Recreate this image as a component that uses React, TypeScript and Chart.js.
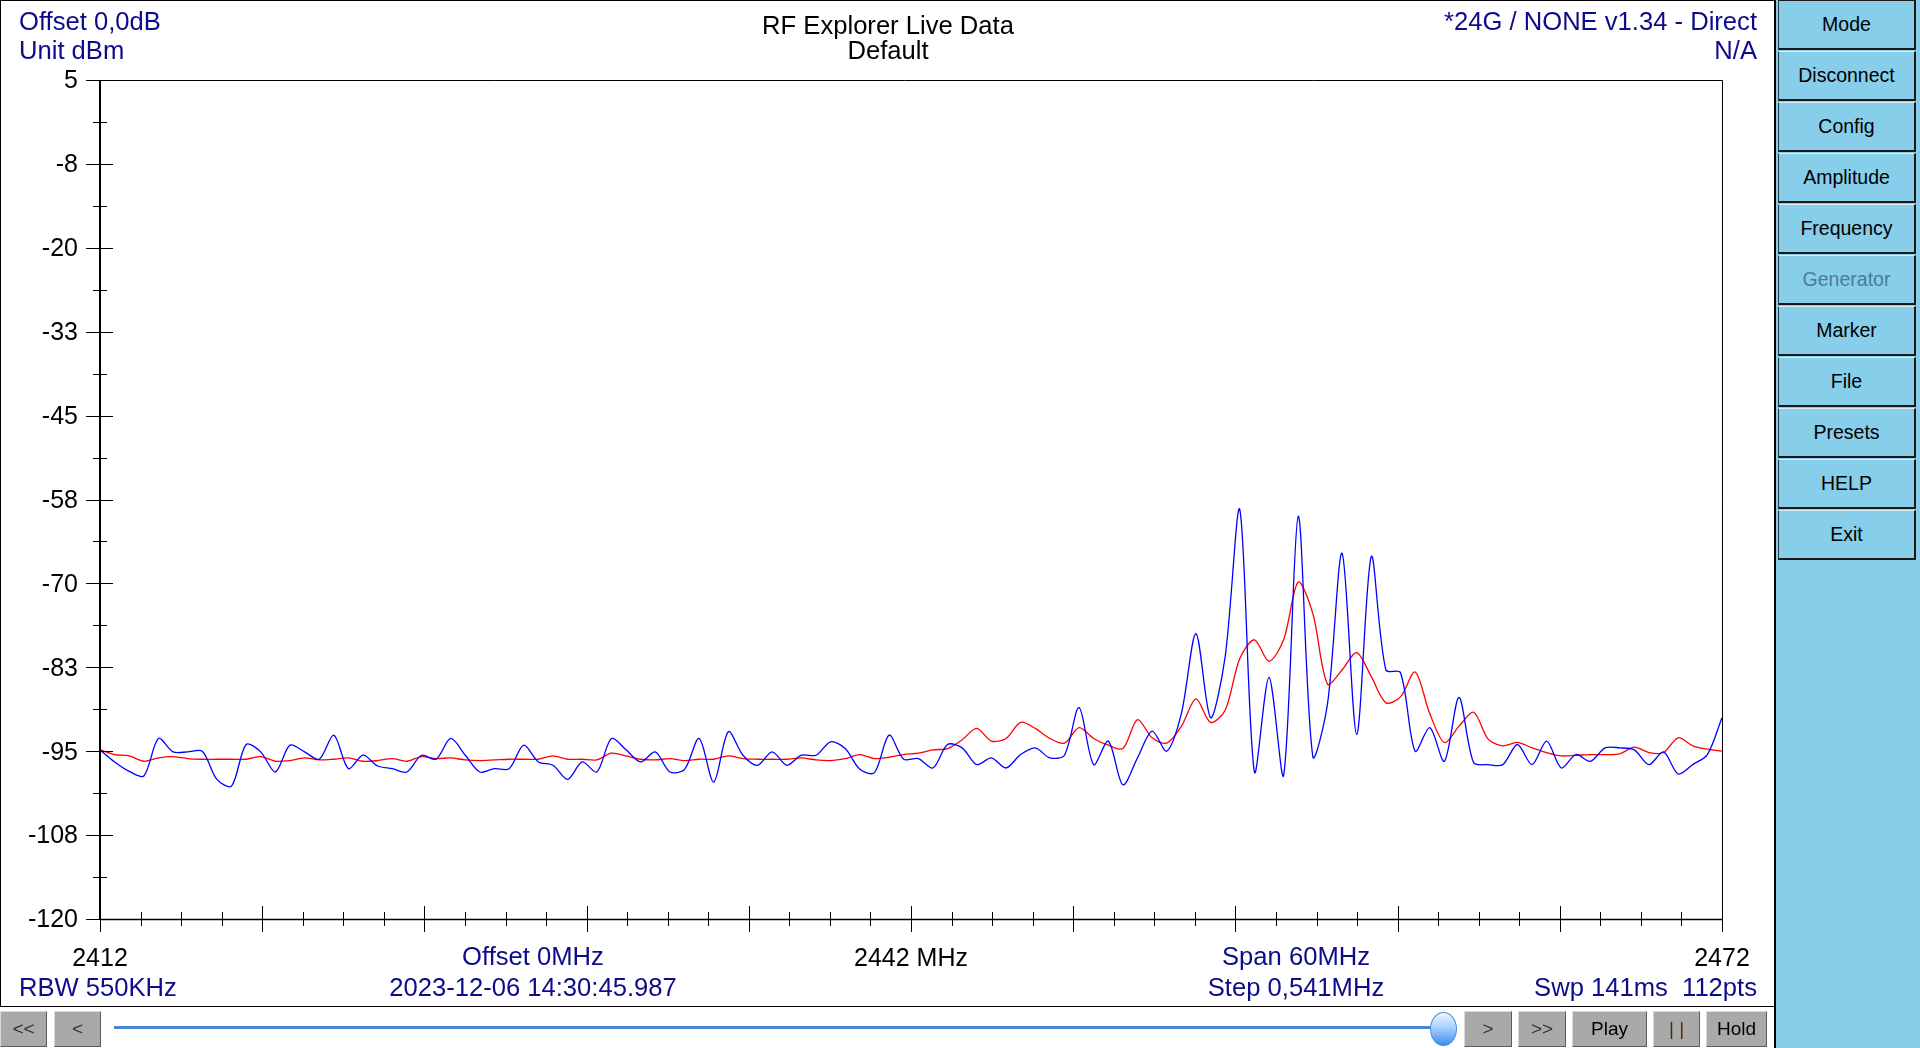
import React, { useEffect, useRef } from "react";
import { Chart, registerables } from "chart.js";

Chart.register(...registerables);

// ---------- sweep definition ----------
const FREQ_START = 2412;
const FREQ_STOP = 2472;
const SWEEP_POINTS = 112;
const frequencies: number[] = Array.from(
  { length: SWEEP_POINTS },
  (_, i) => FREQ_START + (i * (FREQ_STOP - FREQ_START)) / (SWEEP_POINTS - 1)
);

// ---------- series (dBm) ----------
const realtimeDbm: number[] = [
  -94.8, -96.6, -98.0, -98.7, -93.1, -95.1, -95.1, -95.0, -99.2, -100.2,
  -94.0, -95.1, -98.1, -94.1, -95.1, -96.2, -92.6, -97.6, -95.6, -97.2,
  -97.6, -98.1, -95.6, -96.2, -93.1, -95.6, -98.1, -97.6, -97.6, -94.1,
  -96.6, -97.1, -99.2, -96.6, -98.1, -93.1, -94.8, -96.6, -95.1, -98.1,
  -97.7, -93.1, -99.6, -92.1, -95.6, -97.1, -95.1, -97.1, -95.6, -95.6,
  -93.6, -94.6, -97.7, -98.2, -92.6, -96.2, -96.1, -97.5, -94.0, -94.5,
  -97.0, -96.0, -97.5, -95.5, -94.5, -96.0, -95.6, -88.5, -97.0, -93.5,
  -100.0, -96.0, -92.0, -95.0, -89.4, -77.5, -90.0, -80.9, -59.0, -98.1,
  -84.0, -98.6, -60.0, -95.8, -88.0, -65.5, -92.5, -66.0, -82.9, -83.3,
  -95.0, -91.5, -96.5, -87.0, -96.7, -97.0, -97.0, -94.0, -97.0, -93.5,
  -97.5, -95.5, -96.5, -94.5, -94.5, -94.8, -97.0, -95.1, -98.4, -97.0,
  -95.5, -90.0,
];

const averageDbm: number[] = [
  -94.8, -95.5, -95.7, -96.5, -96.0, -95.8, -96.1, -96.2, -96.2, -96.2,
  -96.2, -95.8, -96.5, -96.4, -96.0, -96.3, -96.2, -96.0, -96.5, -96.4,
  -96.1, -96.5, -95.8, -96.1, -96.0, -96.3, -96.4, -96.3, -96.2, -96.2,
  -96.2, -95.7, -96.2, -96.2, -96.3, -95.3, -95.7, -96.2, -96.3, -96.1,
  -96.4, -96.2, -96.2, -95.7, -96.1, -96.2, -96.2, -96.2, -96.0, -96.3,
  -96.4, -96.1, -95.5, -96.1, -95.9, -95.5, -95.3, -94.8, -94.6, -93.3,
  -91.6, -93.5, -93.1, -90.7, -91.6, -93.1, -93.8, -91.5, -93.1, -94.1,
  -94.6, -90.3, -93.0, -93.8, -91.3, -87.2, -90.7, -88.9, -81.2, -78.4,
  -81.6, -78.4, -69.8, -74.5, -85.0, -82.9, -80.3, -83.9, -87.8, -86.9,
  -83.2, -89.4, -93.7, -91.3, -89.2, -93.2, -94.2, -93.7, -94.5, -95.2,
  -95.7, -95.6, -95.5, -95.5, -95.4, -94.4, -95.2, -95.2, -93.0, -94.2,
  -94.7, -95.0,
];

// ---------- ticks ----------
const xTickValues = [2412, 2442, 2472];
const xTickLabels = ["2412", "2442 MHz", "2472"];
const X_MAJOR_STEP = 6;
const X_MINOR_STEP = 1.5;

const Y_MIN = -120;
const Y_MAX = 5;
const yTickValues = [5, -7.5, -20, -32.5, -45, -57.5, -70, -82.5, -95, -107.5, -120];
const yTickLabels = ["5", "-8", "-20", "-33", "-45", "-58", "-70", "-83", "-95", "-108", "-120"];
const Y_MINOR_STEP = 6.25;

// ---------- texts ----------
const headerLeft = ["Offset 0,0dB", "Unit dBm"];
const headerTitle = ["RF Explorer Live Data", "Default"];
const headerRight = ["*24G / NONE v1.34 - Direct", "N/A"];
const footerLeft = "RBW 550KHz";
const footerCenterA = ["Offset 0MHz", "2023-12-06 14:30:45.987"];
const footerCenterB = ["Span 60MHz", "Step 0,541MHz"];
const footerRight = "Swp 141ms  112pts";
const sideButtons = ["Mode", "Disconnect", "Config", "Amplitude", "Frequency", "Generator", "Marker", "File", "Presets", "HELP", "Exit"];

const FONT = '"Liberation Sans", Arial, sans-serif';
const NAVY = "#0c0c8a";
const SKY = "#87ceeb";

const framePlugin = {
  id: "rfFrame",
  afterDatasetsDraw(chart: any) {
    const { ctx, chartArea, scales } = chart;
    const { left, right, top, bottom } = chartArea;
    const x = scales.x;
    const y = scales.y;
    const L = Math.round(left);
    const R = Math.round(right);
    const T = Math.round(top);
    const B = Math.round(bottom);
    ctx.save();
    ctx.strokeStyle = "#000";
    // top + right frame
    ctx.lineWidth = 1;
    ctx.beginPath();
    ctx.moveTo(L - 14, T + 0.5);
    ctx.lineTo(R + 0.5, T + 0.5);
    ctx.lineTo(R + 0.5, B);
    ctx.stroke();
    // left axis
    ctx.lineWidth = 2;
    ctx.beginPath();
    ctx.moveTo(L, T);
    ctx.lineTo(L, B + 1);
    ctx.stroke();
    // bottom axis
    ctx.lineWidth = 1.5;
    ctx.beginPath();
    ctx.moveTo(L, B + 0.5);
    ctx.lineTo(R + 1, B + 0.5);
    ctx.stroke();
    // y ticks
    ctx.lineWidth = 1;
    ctx.beginPath();
    const ny = Math.round((Y_MAX - Y_MIN) / Y_MINOR_STEP);
    for (let k = 0; k <= ny; k++) {
      const v = Y_MIN + k * Y_MINOR_STEP;
      const py = Math.round(y.getPixelForValue(v)) + 0.5;
      const major = k % 2 === 0;
      ctx.moveTo(L - (major ? 14 : 7), py);
      ctx.lineTo(L + (major ? 13 : 7), py);
    }
    // x ticks
    const nx = Math.round((FREQ_STOP - FREQ_START) / X_MINOR_STEP);
    const ratio = Math.round(X_MAJOR_STEP / X_MINOR_STEP);
    for (let k = 0; k <= nx; k++) {
      const f = FREQ_START + k * X_MINOR_STEP;
      const px = Math.round(x.getPixelForValue(f)) + 0.5;
      const major = k % ratio === 0;
      ctx.moveTo(px, B - (major ? 13 : 7));
      ctx.lineTo(px, B + (major ? 13 : 7));
    }
    ctx.stroke();
    ctx.restore();
  },
};

type LabelProps = { x: number; y: number; align: "left" | "center" | "right"; color: string; text: string; size?: number };
function Label({ x, y, align, color, text, size = 25.6 }: LabelProps) {
  const style: React.CSSProperties = {
    position: "absolute",
    top: y - size / 2 + 1.2,
    height: size,
    lineHeight: `${size}px`,
    fontSize: size,
    fontFamily: FONT,
    color,
    whiteSpace: "pre",
  };
  if (align === "left") style.left = x;
  else if (align === "right") style.right = 1920 - x;
  else {
    style.left = x;
    style.transform = "translateX(-50%)";
  }
  return <div style={style}>{text}</div>;
}

function GreyButton({ left, width, text, color }: { left: number; width: number; text: string; color: string }) {
  return (
    <div
      style={{
        position: "absolute",
        left,
        top: 1011,
        width,
        height: 36,
        boxSizing: "border-box",
        background: "#a9a9a9",
        borderTop: "1px solid #d8d8d8",
        borderLeft: "1px solid #d8d8d8",
        borderRight: "1px solid #5c5c5c",
        borderBottom: "1px solid #5c5c5c",
        color,
        fontFamily: FONT,
        fontSize: 19,
        lineHeight: "34px",
        textAlign: "center",
        whiteSpace: "pre",
      }}
    >
      {text}
    </div>
  );
}

export default function App() {
  const canvasRef = useRef<HTMLCanvasElement>(null);

  useEffect(() => {
    document.body.style.margin = "0";
    const canvas = canvasRef.current;
    if (!canvas) return;
    const chart = new Chart(canvas, {
      type: "line",
      data: {
        datasets: [
          {
            label: "Realtime",
            data: frequencies.map((f, i) => ({ x: f, y: realtimeDbm[i] })),
            borderColor: "#0000ff",
            borderWidth: 1.3,
            pointRadius: 0,
            tension: 0.3,
            fill: false,
          },
          {
            label: "Average",
            data: frequencies.map((f, i) => ({ x: f, y: averageDbm[i] })),
            borderColor: "#ff0000",
            borderWidth: 1.3,
            pointRadius: 0,
            tension: 0.3,
            fill: false,
          },
        ],
      },
      options: {
        animation: false,
        responsive: false,
        maintainAspectRatio: false,
        layout: { padding: { left: 0, top: 80, right: 54, bottom: 38 } },
        plugins: {
          legend: { display: false },
          title: { display: false },
          tooltip: { enabled: false },
        },
        scales: {
          x: {
            type: "linear",
            position: "bottom",
            min: FREQ_START,
            max: FREQ_STOP,
            grid: { display: false, drawTicks: false },
            border: { display: false },
            afterBuildTicks: (s: any) => {
              s.ticks = xTickValues.map((v) => ({ value: v }));
            },
            afterFit: (s: any) => {
              s.height = 50;
            },
            ticks: {
              autoSkip: false,
              maxRotation: 0,
              minRotation: 0,
              padding: 25.5,
              color: "#000",
              font: { family: FONT, size: 25 },
              callback: (v: any) => {
                const k = xTickValues.indexOf(Number(v));
                return k >= 0 ? xTickLabels[k] : "";
              },
            },
          },
          y: {
            type: "linear",
            position: "left",
            min: Y_MIN,
            max: Y_MAX,
            grid: { display: false, drawTicks: false },
            border: { display: false },
            afterBuildTicks: (s: any) => {
              s.ticks = yTickValues.map((v) => ({ value: v }));
            },
            afterFit: (s: any) => {
              s.width = 100;
            },
            ticks: {
              autoSkip: false,
              padding: 22,
              labelOffset: 1.5,
              color: "#000",
              font: { family: FONT, size: 25 },
              callback: (v: any) => {
                const k = yTickValues.findIndex((t) => Math.abs(t - Number(v)) < 1e-6);
                return k >= 0 ? yTickLabels[k] : "";
              },
            },
          },
        },
      },
      plugins: [framePlugin],
    } as any);
    return () => chart.destroy();
  }, []);

  return (
    <div
      style={{
        position: "fixed",
        left: 0,
        top: 0,
        width: 1920,
        height: 1048,
        background: "#fff",
        overflow: "hidden",
        fontFamily: FONT,
      }}
    >
      {/* chart panel frame */}
      <div
        style={{
          position: "absolute",
          left: 0,
          top: 0,
          width: 1776,
          height: 1007,
          boxSizing: "border-box",
          border: "1px solid #000",
        }}
      />
      <canvas
        ref={canvasRef}
        width={1776}
        height={1007}
        style={{ position: "absolute", left: 0, top: 0, width: 1776, height: 1007 }}
      />

      {/* header */}
      <Label x={19} y={21} align="left" color={NAVY} text={headerLeft[0]} />
      <Label x={19} y={50} align="left" color={NAVY} text={headerLeft[1]} />
      <Label x={888} y={25} align="center" color="#000" text={headerTitle[0]} />
      <Label x={888} y={50} align="center" color="#000" text={headerTitle[1]} />
      <Label x={1757} y={21} align="right" color={NAVY} text={headerRight[0]} />
      <Label x={1757} y={50} align="right" color={NAVY} text={headerRight[1]} />

      {/* footer */}
      <Label x={533} y={956} align="center" color={NAVY} text={footerCenterA[0]} />
      <Label x={533} y={987} align="center" color={NAVY} text={footerCenterA[1]} />
      <Label x={1296} y={956} align="center" color={NAVY} text={footerCenterB[0]} />
      <Label x={1296} y={987} align="center" color={NAVY} text={footerCenterB[1]} />
      <Label x={19} y={987} align="left" color={NAVY} text={footerLeft} />
      <Label x={1757} y={987} align="right" color={NAVY} text={footerRight} />

      {/* bottom bar */}
      <GreyButton left={0} width={47} text="<<" color="#333" />
      <GreyButton left={54} width={47} text="<" color="#333" />
      <div
        style={{
          position: "absolute",
          left: 114,
          top: 1026,
          width: 1330,
          height: 3,
          background: "#4a86d6",
        }}
      />
      <div
        style={{
          position: "absolute",
          left: 1430,
          top: 1012,
          width: 27,
          height: 34,
          boxSizing: "border-box",
          borderRadius: "50%",
          border: "1px solid #4a8fe0",
          background: "linear-gradient(to bottom, #eef6ff 0%, #a9d0ff 45%, #3a8ff0 100%)",
        }}
      />
      <GreyButton left={1464} width={48} text=">" color="#333" />
      <GreyButton left={1518} width={48} text=">>" color="#333" />
      <GreyButton left={1572} width={75} text="Play" color="#000" />
      <GreyButton left={1653} width={47} text="| |" color="#4a2c10" />
      <GreyButton left={1706} width={61} text="Hold" color="#000" />

      {/* right panel */}
      <div
        style={{
          position: "absolute",
          left: 1774,
          top: 0,
          width: 146,
          height: 1048,
          boxSizing: "border-box",
          background: SKY,
          borderLeft: "2px solid #000",
        }}
      />
      {sideButtons.map((name, i) => (
        <div
          key={name}
          style={{
            position: "absolute",
            left: 1778,
            top: i * 51,
            width: 138,
            height: 50,
            boxSizing: "border-box",
            background: SKY,
            borderTop: i === 0 ? "1px solid #1a1a1a" : "1px solid #d6f0fa",
            borderLeft: "1px solid #3a3a3a",
            borderRight: "2px solid #1a1a1a",
            borderBottom: "2px solid #1a1a1a",
            color: name === "Generator" ? "#4b7d93" : "#000",
            fontFamily: FONT,
            fontSize: 19.5,
            lineHeight: "47px",
            textAlign: "center",
          }}
        >
          {name}
        </div>
      ))}
    </div>
  );
}
